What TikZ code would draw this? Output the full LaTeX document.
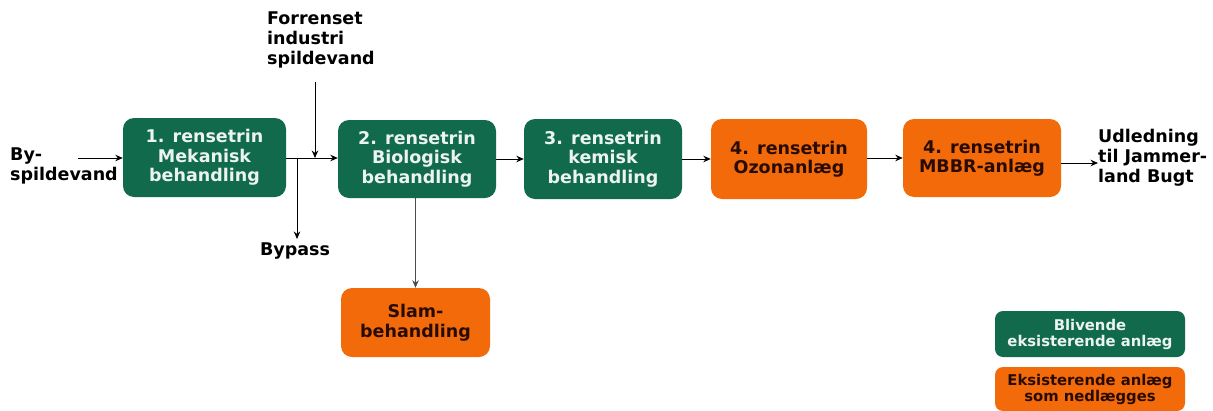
\documentclass[tikz,border=0pt]{standalone}
\usepackage{fontspec}
\setmainfont{DejaVu Sans}
\usetikzlibrary{arrows.meta}
\definecolor{grn}{RGB}{17,106,76}
\definecolor{org}{RGB}{242,106,10}
\definecolor{lighttxt}{RGB}{236,244,240}
\definecolor{darktxt}{RGB}{40,12,4}
\tikzset{
  box/.style={rounded corners=11pt, align=center, inner sep=0pt,
    font=\bfseries\fontsize{17.5}{19.5}\selectfont},
  gbox/.style={box, fill=grn, text=lighttxt},
  obox/.style={box, fill=org, text=darktxt},
  lbl/.style={align=left, inner sep=0pt, font=\bfseries\fontsize{17.5}{19.8}\selectfont},
  leg/.style={rounded corners=8pt, align=center, inner sep=0pt, minimum width=190pt,
    font=\bfseries\fontsize{14.8}{16}\selectfont},
  flow/.style={line width=1pt, -{Stealth[length=7.5pt,width=6.5pt]}},
}
\begin{document}
\begin{tikzpicture}[x=1pt,y=-1pt]
\useasboundingbox (0,0) rectangle (1213,410);
\node[gbox, minimum width=163pt, minimum height=79pt] (b1) at (204.5,157.5) {1. rensetrin\\Mekanisk\\behandling};
\node[gbox, minimum width=158pt, minimum height=78pt] (b2) at (417,159) {2. rensetrin\\Biologisk\\behandling};
\node[gbox, minimum width=158pt, minimum height=80pt] (b3) at (603,159) {3. rensetrin\\kemisk\\behandling};
\node[obox, minimum width=156pt, minimum height=80pt] (b4) at (789,159) {4. rensetrin\\Ozonanlæg};
\node[obox, minimum width=158pt, minimum height=78pt] (b5) at (982,158) {4. rensetrin\\MBBR-anlæg};
\node[obox, minimum width=149pt, minimum height=69pt] (slam) at (415.5,322.5) {Slam-\\behandling};

\node[lbl, anchor=west] (by) at (10,166) {By-\\spildevand};
\node[lbl, anchor=north west] (forr) at (267,12) {Forrenset\\industri\\spildevand};
\node[lbl, anchor=north] (bypass) at (295,243) {Bypass};
\node[lbl, anchor=west] (udl) at (1098,158) {Udledning\\til Jammer-\\land Bugt};

\node[leg, fill=grn, text=lighttxt, minimum height=46pt] (lg1) at (1090,334) {Blivende\\eksisterende anlæg};
\node[leg, fill=org, text=darktxt, minimum height=44pt] (lg2) at (1090,389) {Eksisterende anlæg\\som nedlægges};

\coordinate (inA) at (78,158);
\draw[flow] (inA) -- (inA -| b1.west);
\coordinate (j) at (297,158);
\coordinate (k) at (315,158);
\coordinate (ftop) at (315,82);
\draw[flow] (b1.east |- j) -- (j -| b2.west);
\draw[flow] (ftop) -- (k);
\draw[flow] (j) -- (297,239);
\draw[flow] (b2.east |- b3.west) -- (b3.west);
\draw[flow] (b3.east) -- (b4.west);
\draw[flow] (b4.east |- b5.west) -- (b5.west);
\coordinate (o) at (1061,163);
\draw[flow] (o) -- (o -| udl.west);
\draw[flow, draw=black!70] (b2.south -| slam.north) -- (slam.north);
\end{tikzpicture}
\end{document}
